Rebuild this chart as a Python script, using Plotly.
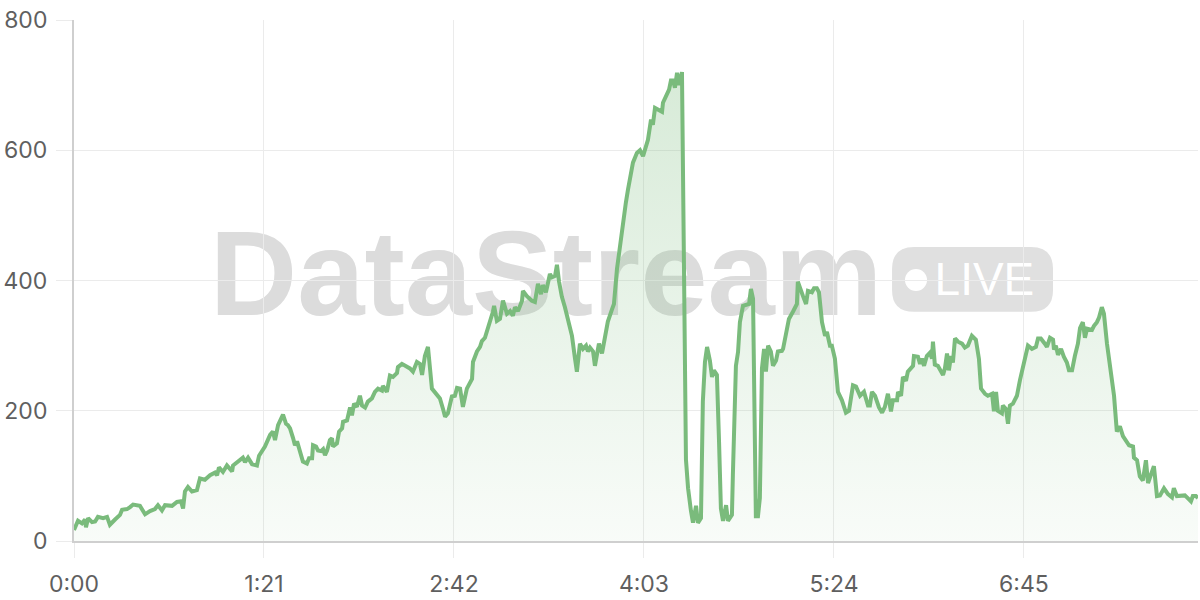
import plotly.graph_objects as go

# ---- data: elapsed time (s) and streamed value ----
t_sec = [0.0, 1.7, 3.4, 4.7, 5.1, 6.0, 7.7, 9.0, 10.2, 12.4, 14.1, 15.3, 17.5, 19.6, 20.5, 22.6, 23.9, 25.2, 28.1, 30.3,
         32.4, 34.5, 35.8, 37.5, 38.8, 41.8, 43.9, 45.6, 46.5, 47.3, 48.6, 50.3, 52.4, 53.7, 55.8, 58.0, 60.1, 61.0, 61.8, 63.5,
         65.2, 67.4, 67.8, 69.9, 72.0, 72.9, 74.2, 75.9, 78.0, 78.9, 81.4, 83.6, 84.8, 85.7, 87.0, 89.1, 90.4, 91.2, 92.1, 93.4,
         94.2, 95.1, 96.3, 97.6, 99.3, 100.2, 101.5, 101.9, 103.2, 104.0, 105.3, 106.2, 107.0, 107.9, 109.1, 110.0, 110.4, 112.1, 113.0, 114.3,
         114.7, 116.4, 117.7, 118.5, 119.4, 120.6, 121.9, 122.8, 124.1, 125.3, 127.0, 128.3, 129.6, 131.3, 131.7, 133.4, 134.7, 136.0, 137.7, 138.1,
         139.8, 141.1, 143.2, 144.5, 146.2, 147.5, 148.4, 149.6, 150.9, 152.6, 153.9, 156.0, 157.3, 158.2, 159.4, 161.1, 162.4, 163.3, 164.6, 165.8,
         167.5, 169.7, 170.1, 171.8, 173.1, 173.9, 175.2, 176.1, 177.3, 178.6, 179.1, 180.3, 181.6, 182.9, 184.6, 185.9, 187.1, 188.0, 189.3, 191.0,
         191.4, 193.1, 195.2, 196.5, 197.8, 199.1, 199.9, 201.2, 202.9, 203.8, 205.1, 205.9, 206.8, 208.0, 209.3, 210.6, 212.3, 213.6, 214.4, 215.7,
         217.0, 218.3, 219.1, 220.0, 221.3, 222.1, 223.0, 223.8, 225.1, 226.4, 227.6, 229.4, 230.2, 231.5, 232.8, 234.0, 235.3, 236.2, 237.0, 238.3,
         240.0, 241.3, 242.6, 244.3, 244.7, 246.0, 246.8, 247.7, 249.0, 250.7, 251.1, 252.8, 253.7, 254.5, 255.4, 256.2, 257.1, 257.9, 259.2, 260.9,
         261.8, 263.0, 263.9, 265.2, 266.0, 267.3, 268.1, 269.0, 269.9, 271.1, 272.0, 272.8, 274.1, 275.0, 275.8, 276.7, 278.0, 278.8, 280.5, 280.9,
         282.2, 283.1, 283.9, 285.2, 286.9, 287.8, 288.6, 289.5, 290.7, 291.6, 292.4, 293.3, 294.2, 295.0, 295.9, 297.1, 298.0, 299.3, 300.1, 301.8,
         302.3, 304.0, 304.8, 306.5, 308.2, 308.6, 309.9, 310.8, 312.1, 312.9, 314.6, 315.5, 316.7, 317.6, 318.9, 320.2, 321.0, 322.3, 323.1, 324.4,
         325.7, 327.4, 329.1, 330.4, 332.1, 333.4, 335.1, 336.8, 338.5, 339.3, 340.2, 341.5, 343.2, 344.5, 345.7, 347.0, 348.3, 349.1, 350.9, 351.3,
         352.6, 353.4, 354.7, 355.5, 357.7, 358.1, 359.8, 360.7, 361.5, 362.4, 363.6, 364.9, 365.8, 366.2, 367.0, 368.3, 370.5, 371.3, 372.2, 373.0,
         373.9, 374.7, 375.6, 376.9, 378.6, 379.8, 381.1, 382.8, 384.5, 385.8, 386.7, 388.4, 389.6, 391.4, 392.2, 393.1, 393.9, 395.6, 396.0, 397.3,
         398.2, 399.0, 400.3, 401.2, 402.0, 403.3, 404.6, 405.8, 406.7, 408.4, 410.1, 411.0, 412.2, 413.9, 414.8, 416.1, 417.4, 417.8, 418.6, 419.5,
         420.8, 422.0, 423.3, 424.2, 425.5, 426.7, 428.0, 428.9, 430.1, 431.0, 431.9, 434.0, 434.8, 436.1, 437.0, 438.2, 439.1, 440.4, 441.2, 442.5,
         443.4, 444.6, 445.9, 447.2, 448.9, 449.8, 451.5, 451.9, 453.2, 454.4, 455.7, 457.0, 457.9, 459.6, 460.4, 461.7, 463.0, 464.7, 466.4, 468.1,
         468.9, 470.2, 471.5, 472.3, 473.6, 474.5, 476.2, 477.0, 478.3, 479.2]

values = [17, 31, 27, 33, 21, 35, 29, 30, 37, 35, 37, 25, 33, 40, 48, 49, 52, 56, 54, 41,
          46, 49, 55, 47, 55, 54, 60, 61, 50, 76, 83, 76, 78, 96, 94, 101, 105, 101, 113, 106,
          116, 107, 116, 123, 128, 121, 128, 118, 116, 131, 145, 163, 168, 155, 178, 194, 180, 178, 173, 158,
          147, 153, 139, 122, 119, 127, 127, 147, 145, 139, 138, 141, 132, 139, 155, 158, 145, 150, 168, 173,
          183, 185, 205, 193, 211, 206, 223, 208, 205, 214, 219, 229, 234, 231, 238, 229, 254, 252, 258, 267,
          272, 269, 265, 260, 275, 272, 255, 284, 298, 234, 229, 219, 203, 191, 196, 222, 223, 235, 234, 206,
          234, 249, 275, 291, 298, 307, 312, 323, 333, 352, 361, 338, 341, 369, 349, 353, 346, 359, 353, 369,
          384, 376, 369, 367, 395, 379, 393, 382, 410, 405, 407, 424, 398, 375, 359, 341, 315, 280, 260, 303,
          295, 300, 291, 297, 291, 269, 291, 303, 288, 310, 337, 356, 364, 418, 453, 494, 520, 540, 558, 581,
          596, 600, 591, 612, 616, 647, 639, 665, 662, 659, 673, 685, 693, 707, 707, 696, 719, 700, 720, 125,
          81, 47, 28, 54, 28, 35, 214, 275, 298, 277, 252, 262, 255, 153, 50, 31, 55, 31, 40, 101,
          269, 290, 336, 361, 364, 364, 387, 372, 38, 38, 66, 265, 295, 260, 300, 291, 269, 277, 291, 292,
          295, 331, 341, 352, 364, 398, 382, 376, 364, 384, 382, 388, 388, 382, 336, 315, 321, 300, 300, 280,
          229, 216, 197, 200, 239, 237, 223, 229, 208, 208, 229, 223, 205, 197, 206, 226, 199, 216, 216, 229,
          223, 252, 246, 260, 269, 284, 283, 272, 280, 269, 284, 289, 280, 306, 271, 269, 255, 265, 288, 262,
          284, 274, 311, 306, 303, 297, 300, 315, 309, 280, 234, 226, 223, 226, 199, 229, 200, 196, 208, 203,
          180, 208, 211, 219, 223, 247, 269, 283, 300, 295, 298, 311, 311, 303, 298, 312, 309, 294, 300, 286,
          295, 283, 274, 262, 262, 284, 303, 327, 336, 312, 326, 324, 330, 336, 343, 359, 349, 303, 280, 245,
          223, 168, 176, 161, 153, 147, 145, 128, 124, 99, 93, 124, 89, 104, 115, 69, 70, 81, 72, 67,
          81, 69, 69, 70, 70, 67, 61, 69, 69, 66]

x_tick_vals = [0, 81, 162, 243, 324, 405]
x_tick_text = ["0:00", "1:21", "2:42", "4:03", "5:24", "6:45"]
y_tick_vals = [0, 200, 400, 600, 800]

LINE = "rgb(122,187,124)"
GRID = "#ebebeb"
AXIS = "#cfcfcf"
TICKFONT = dict(family="Inter, Liberation Sans, sans-serif", size=23, color="#5f5f5f")

fig = go.Figure()
fig.add_trace(go.Scatter(
    x=t_sec, y=values, mode="lines",
    line=dict(color=LINE, width=4),
    fill="tozeroy",
    fillgradient=dict(type="vertical",
                      colorscale=[[0, "rgba(122,187,124,0.05)"], [1, "rgba(122,187,124,0.30)"]]),
    hoverinfo="skip", showlegend=False,
))

# watermark (drawn below gridlines)
WM = "#dcdcdc"
shapes = [
    dict(type="rect", xref="paper", yref="paper", x0=0.18, x1=0.66, y0=0.435, y1=0.635,
         line=dict(width=0), fillcolor="rgba(0,0,0,0)", layer="below",
         label=dict(text="DataStream", textposition="middle center",
                    font=dict(family="Liberation Sans", size=121, color=WM, weight="bold"))),
    dict(type="path", xref="paper", yref="paper", layer="below", line=dict(width=0), fillcolor="#e0e0e0",
         path=("M 0.7474,0.4398 L 0.8514,0.4398 Q 0.8710,0.4398 0.8710,0.4819 "
               "L 0.8710,0.5220 Q 0.8710,0.5641 0.8514,0.5641 L 0.7474,0.5641 "
               "Q 0.7278,0.5641 0.7278,0.5220 L 0.7278,0.4819 Q 0.7278,0.4398 0.7474,0.4398 Z")),
    dict(type="circle", xref="paper", yref="paper", layer="below", line=dict(width=0), fillcolor="white",
         x0=0.7393, x1=0.7589, y0=0.4799, y1=0.5220),
    dict(type="rect", xref="paper", yref="paper", x0=0.78, x1=0.84, y0=0.47, y1=0.55,
         line=dict(width=0), fillcolor="rgba(0,0,0,0)", layer="below",
         label=dict(text="LIVE", textposition="middle center",
                    font=dict(family="Liberation Sans", size=46, color="white"))),
]

fig.update_layout(
    width=1200, height=600,
    margin=dict(l=74, r=2, t=20, b=57),
    paper_bgcolor="white", plot_bgcolor="rgba(0,0,0,0)",
    shapes=shapes,
    xaxis=dict(range=[0, 479.2], tickmode="array", tickvals=x_tick_vals, ticktext=x_tick_text,
               showgrid=True, gridcolor=GRID, gridwidth=1,
               showline=True, linecolor=AXIS, linewidth=2,
               ticks="outside", ticklen=15, tickcolor=GRID, tickwidth=1,
               tickfont=TICKFONT, zeroline=False, ticklabelstandoff=6),
    yaxis=dict(range=[0, 800], tickmode="array", tickvals=y_tick_vals,
               showgrid=True, gridcolor=GRID, gridwidth=1,
               showline=True, linecolor=AXIS, linewidth=2,
               ticks="outside", ticklen=16, tickcolor=GRID, tickwidth=1,
               tickfont=TICKFONT, zeroline=False, ticklabelstandoff=4),
)

fig.write_html("out.html", config={"displayModeBar": False},
               post_script="document.body.style.margin='0';document.body.style.overflow='hidden';")
